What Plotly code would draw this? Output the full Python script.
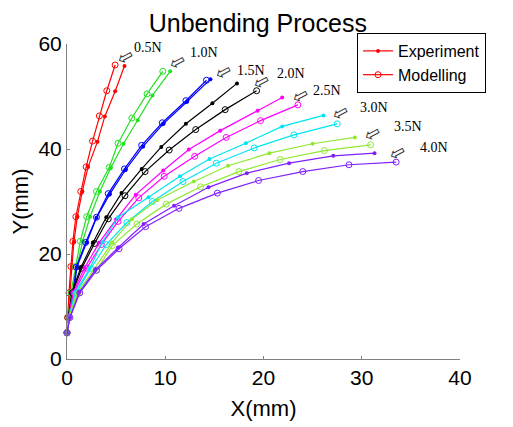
import plotly.graph_objects as go

# loads and colours of the curves
forces = ["0.5N", "1.0N", "1.5N", "2.0N", "2.5N", "3.0N", "3.5N", "4.0N"]
colors = ["#ff0000", "#22e022", "#0000ff", "#000000", "#ff00ff", "#00e5f0", "#90e830", "#8020ff"]

# experiment (filled dots), mm
x_exp_05 = [0, 0.1, 0.3, 0.5, 0.7, 1.05, 1.55, 2.15, 3.1, 3.85, 4.9, 5.85]
y_exp_05 = [5.0, 7.8, 12.6, 17.6, 22.3, 27.1, 31.9, 36.6, 41.4, 46.2, 51.0, 55.8]
x_exp_10 = [0, 0.15, 0.5, 1.0, 1.6, 2.35, 3.35, 4.45, 5.75, 7.2, 8.7, 10.5]
y_exp_10 = [5.0, 7.9, 12.6, 17.6, 22.4, 27.1, 31.9, 36.4, 41.0, 45.5, 50.2, 54.8]
x_exp_15 = [0, 0.2, 0.7, 1.0, 2.0, 3.0, 4.35, 5.95, 7.75, 9.8, 12.2, 14.6]
y_exp_15 = [5.0, 7.9, 12.6, 17.5, 22.2, 26.9, 31.4, 36.0, 40.5, 44.8, 49.0, 53.3]
x_exp_20 = [0, 0.13, 0.5, 1.4, 2.65, 4.0, 5.55, 7.6, 9.6, 12.1, 14.8, 17.3]
y_exp_20 = [5.0, 7.9, 12.7, 17.4, 22.2, 27.0, 31.6, 36.2, 40.4, 44.8, 48.7, 52.5]
x_exp_25 = [0, 0.15, 0.6, 1.8, 3.3, 5.0, 7.0, 9.8, 12.4, 15.6, 19.4, 21.9]
y_exp_25 = [5.0, 7.9, 12.6, 17.4, 22.2, 26.6, 31.3, 35.9, 39.9, 43.5, 47.3, 49.8]
x_exp_30 = [0, 0.2, 0.8, 2.3, 3.6, 5.2, 8.3, 11.5, 14.5, 18.2, 21.9, 26.1]
y_exp_30 = [5.0, 7.9, 12.6, 17.2, 22.3, 27.0, 30.8, 34.8, 38.1, 41.1, 44.3, 46.4]
x_exp_35 = [0, 0.2, 1.0, 2.8, 4.6, 6.6, 9.2, 12.9, 16.4, 20.6, 25.0, 29.3]
y_exp_35 = [5.0, 7.9, 12.5, 17.2, 22.2, 26.6, 30.3, 33.8, 36.8, 39.2, 41.0, 42.2]
x_exp_40 = [0, 0.3, 1.25, 2.9, 5.2, 7.8, 10.9, 14.4, 18.3, 22.6, 27.1, 31.3]
y_exp_40 = [5.0, 7.9, 12.7, 17.0, 21.2, 25.7, 29.2, 32.7, 35.4, 37.3, 38.7, 39.2]

# modelling (open circles)
x_mod_05 = [0, 0.05, 0.2, 0.4, 0.6, 0.9, 1.4, 1.95, 2.6, 3.3, 4.05, 4.9]
y_mod_05 = [5.0, 7.9, 12.6, 17.6, 22.4, 27.1, 31.9, 36.6, 41.5, 46.3, 51.1, 56.0]
x_mod_10 = [0, 0.1, 0.4, 0.85, 1.35, 2.0, 3.0, 4.3, 5.2, 6.6, 8.15, 9.75]
y_mod_10 = [5.0, 7.9, 12.6, 17.6, 22.4, 27.1, 31.9, 36.5, 41.1, 45.9, 50.5, 54.8]
x_mod_15 = [0, 0.15, 0.6, 0.95, 1.9, 3.0, 4.2, 5.85, 7.6, 9.7, 12.1, 14.2]
y_mod_15 = [5.0, 7.9, 12.6, 17.5, 22.2, 27.0, 31.5, 36.2, 40.7, 45.0, 49.2, 53.1]
x_mod_20 = [0, 0.13, 0.55, 1.5, 2.8, 4.2, 5.9, 7.95, 10.4, 13.1, 16.1, 19.3]
y_mod_20 = [5.0, 7.9, 12.6, 17.3, 22.0, 26.7, 31.1, 35.7, 39.8, 43.7, 47.5, 51.1]
x_mod_25 = [0, 0.15, 0.7, 2.0, 3.5, 5.2, 7.3, 9.9, 13.0, 16.2, 19.7, 23.5]
y_mod_25 = [5.0, 7.9, 12.6, 17.3, 21.8, 26.2, 30.7, 34.8, 38.6, 42.2, 45.4, 48.4]
x_mod_30 = [0, 0.2, 0.9, 2.4, 4.0, 6.1, 8.7, 11.8, 15.2, 19.05, 23.1, 27.5]
y_mod_30 = [5.0, 7.9, 12.5, 17.2, 21.8, 26.0, 30.0, 33.8, 37.3, 40.2, 42.7, 44.8]
x_mod_35 = [0, 0.2, 1.1, 3.0, 4.6, 7.1, 10.1, 13.6, 17.5, 21.7, 26.2, 30.9]
y_mod_35 = [5.0, 7.9, 12.4, 16.9, 21.6, 25.7, 29.5, 32.8, 35.7, 38.0, 39.7, 40.8]
x_mod_40 = [0, 0.3, 1.3, 3.0, 5.3, 8.0, 11.4, 15.3, 19.5, 24.0, 28.7, 33.5]
y_mod_40 = [5.0, 7.9, 12.6, 16.9, 21.0, 25.2, 28.7, 31.6, 34.0, 35.7, 37.0, 37.5]

exp_x = [x_exp_05, x_exp_10, x_exp_15, x_exp_20, x_exp_25, x_exp_30, x_exp_35, x_exp_40]
exp_y = [y_exp_05, y_exp_10, y_exp_15, y_exp_20, y_exp_25, y_exp_30, y_exp_35, y_exp_40]
mod_x = [x_mod_05, x_mod_10, x_mod_15, x_mod_20, x_mod_25, x_mod_30, x_mod_35, x_mod_40]
mod_y = [y_mod_05, y_mod_10, y_mod_15, y_mod_20, y_mod_25, y_mod_30, y_mod_35, y_mod_40]

fig = go.Figure()

for i in range(len(forces)):
    c = colors[i]
    fig.add_scatter(x=exp_x[i], y=exp_y[i], mode="lines+markers", name="Experiment",
                    showlegend=(i == 0), cliponaxis=False,
                    line=dict(color=c, width=1.2),
                    marker=dict(symbol="circle", size=4, color=c))
    fig.add_scatter(x=mod_x[i], y=mod_y[i], mode="lines+markers", name="Modelling",
                    showlegend=(i == 0), cliponaxis=False,
                    line=dict(color=c, width=1.2),
                    marker=dict(symbol="circle-open", size=6, color=c, line=dict(width=1)))

# label positions and hollow arrow centres, data units
label_pos = [(8.24, 59.4), (13.94, 58.3), (18.72, 55.0), (22.79, 54.3),
             (26.45, 51.2), (31.23, 48.0), (34.69, 44.2), (37.33, 40.2)]
arrow_pos = [(5.95, 57.7), (11.24, 56.76), (15.92, 54.86), (19.78, 52.96),
             (23.75, 50.26), (27.82, 47.06), (31.06, 43.06), (33.62, 39.46)]

for i in range(len(forces)):
    fig.add_annotation(x=label_pos[i][0], y=label_pos[i][1], text=forces[i], showarrow=False,
                       font=dict(family="Liberation Serif", size=14, color="black"))
    fig.add_annotation(x=arrow_pos[i][0], y=arrow_pos[i][1], text="\u21e6", showarrow=False,
                       textangle=-28,
                       font=dict(family="DejaVu Sans", size=19, color="#333333"))

axis_style = dict(showline=True, linecolor="#808080", linewidth=1, ticks="inside",
                  ticklen=3, tickcolor="#808080", showgrid=False, zeroline=False,
                  automargin=False,
                  tickfont=dict(family="Liberation Sans", size=21, color="black"),
                  title_font=dict(family="Liberation Sans", size=22, color="black"))

fig.update_xaxes(range=[0, 40], dtick=10, title_text="X(mm)", title_standoff=12, **axis_style)
fig.update_yaxes(range=[0, 60], dtick=20, title_text="Y(mm)", title_standoff=6, **axis_style)

# the page adds 8px around the figure, so margins are shifted by that much
fig.update_layout(
    width=513, height=427,
    margin=dict(l=59, r=61, t=36, b=76),
    paper_bgcolor="white", plot_bgcolor="white",
    title=dict(text="Unbending Process", x=0.487, xanchor="center", y=0.984, yanchor="top",
               font=dict(family="Liberation Sans", size=25, color="black")),
    legend=dict(x=0.738, y=1.035, xanchor="left", yanchor="top", bgcolor="white",
                bordercolor="black", borderwidth=1, itemwidth=30, tracegroupgap=0,
                font=dict(family="Liberation Sans", size=16, color="black")),
)

fig.write_html("out.html")
